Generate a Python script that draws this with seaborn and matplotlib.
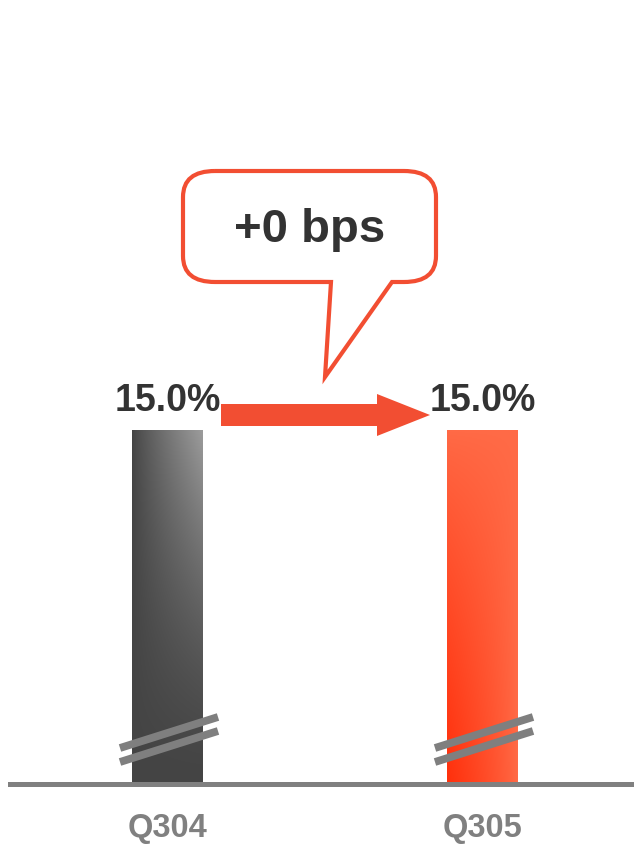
import numpy as np
import pandas as pd
import matplotlib
matplotlib.use("Agg")
import matplotlib.pyplot as plt
import matplotlib.patches as mpatches
from matplotlib.path import Path
from matplotlib.colors import to_rgb
import seaborn as sns

# ---- data ----
categories = ["Q304", "Q305"]
values = [15.0, 15.0]
change_label = "+0 bps"

sns.set_style("white")
plt.rcParams["font.family"] = ["Liberation Sans", "DejaVu Sans"]

W, H = 634, 847
fig = plt.figure(figsize=(W / 100, H / 100), dpi=100)
base_px = 783.5
ax = fig.add_axes([0, (H - base_px) / H, 1, base_px / H])

df = pd.DataFrame({"quarter": categories, "value": values})
sns.barplot(data=df, x="quarter", y="value", hue="quarter",
            palette=["#555555", "#FF6B47"], width=0.2254, legend=False,
            ax=ax, linewidth=0)

xlim = (-0.532, 1.481)
top_px = 430
ylim = (0, values[0] * base_px / (base_px - top_px))
ax.set_xlim(*xlim)
ax.set_ylim(*ylim)

# gradients clipped to the bars
nx, ny = 80, 300
X, Y = np.meshgrid(np.linspace(0, 1, nx), np.linspace(0, 1, ny))
grad_specs = [
    ("#444444", "#9C9C9C", np.clip(X ** 0.85 * Y ** 1.5, 0, 1)),
    ("#FF6B47", "#FF300C", np.clip(((1 - X) * (1 - Y)) ** 0.8, 0, 1)),
]
for patch, (c0, c1, t) in zip(ax.patches, grad_specs):
    a, b = np.array(to_rgb(c0)), np.array(to_rgb(c1))
    img = a[None, None, :] + (b - a)[None, None, :] * t[:, :, None]
    x0, y0 = patch.get_x(), patch.get_y()
    w, h = patch.get_width(), patch.get_height()
    im = ax.imshow(img, origin="lower", extent=[x0, x0 + w, y0, y0 + h],
                   aspect="auto", interpolation="bilinear", zorder=1.5)
    im.set_clip_path(patch)
ax.set_xlim(*xlim)
ax.set_ylim(*ylim)

# value labels
for i, v in enumerate(values):
    ax.annotate(f"{v:.1f}%", (i, v), xytext=(0, 13.7), textcoords="offset points",
                ha="center", va="baseline", fontsize=27, fontweight="bold",
                color="#333333")

# axes styling
for s in ["top", "right", "left"]:
    ax.spines[s].set_visible(False)
ax.spines["bottom"].set_color("#808080")
ax.spines["bottom"].set_linewidth(3.6)
ax.spines["bottom"].set_bounds(-0.5, xlim[1])
ax.spines["bottom"].set_zorder(3)
ax.set_yticks([])
ax.set_xlabel("")
ax.set_ylabel("")
ax.tick_params(axis="x", length=0, pad=21, labelsize=23.5, labelcolor="#808080")
for lab in ax.get_xticklabels():
    lab.set_fontweight("bold")


def P(x, y):
    return (x / W, 1 - y / H)


# axis-break marks
for cx in [120, 435]:
    for dy in [0, 14]:
        xa, ya = P(cx, 748 + dy)
        xb, yb = P(cx + 98, 717 + dy)
        fig.add_artist(plt.Line2D([xa, xb], [ya, yb], transform=fig.transFigure,
                                  color="#7F7F7F", lw=5.6, solid_capstyle="butt",
                                  zorder=5))

# arrow
arrow_pts = [(221, 404), (377, 404), (377, 394), (430, 415), (377, 436),
             (377, 426), (221, 426)]
fig.add_artist(mpatches.Polygon([P(*p) for p in arrow_pts], closed=True,
                                transform=fig.transFigure, facecolor="#F24E32",
                                edgecolor="none", zorder=5))

# callout bubble
L, R, T, B = 183, 436, 171, 282
rx, ry = 32, 26
verts = [
    (L + rx, T), (R - rx, T), (R, T), (R, T + ry), (R, B - ry), (R, B), (R - rx, B),
    (392, B), (325, 377), (331, B),
    (L + rx, B), (L, B), (L, B - ry), (L, T + ry), (L, T), (L + rx, T),
]
codes = [Path.MOVETO, Path.LINETO, Path.CURVE3, Path.CURVE3, Path.LINETO,
         Path.CURVE3, Path.CURVE3, Path.LINETO, Path.LINETO, Path.LINETO,
         Path.LINETO, Path.CURVE3, Path.CURVE3, Path.LINETO, Path.CURVE3,
         Path.CURVE3]
bubble = mpatches.PathPatch(Path([P(*v) for v in verts], codes),
                            transform=fig.transFigure, facecolor="white",
                            edgecolor="#F24E32", lw=3.0, joinstyle="miter",
                            zorder=5)
fig.add_artist(bubble)
fig.text(*P(310, 242), change_label, ha="center", va="baseline", fontsize=34,
         fontweight="bold", color="#333333", zorder=6)

fig.savefig("out.png", dpi=100, facecolor="white")
